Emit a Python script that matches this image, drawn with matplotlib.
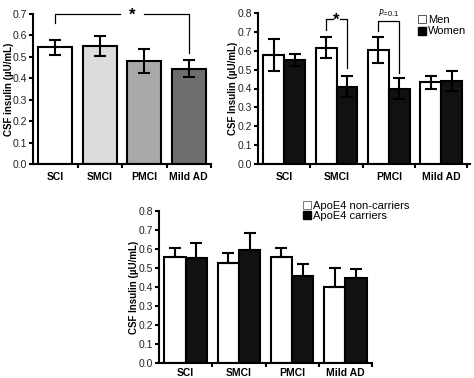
import matplotlib
matplotlib.use("Agg")
import matplotlib.pyplot as plt
from matplotlib.lines import Line2D
import numpy as np

plt.rcParams['font.family'] = ['Liberation Sans', 'DejaVu Sans']

categories = ["SCI", "SMCI", "PMCI", "Mild AD"]

# Panel A
a_vals = [0.545, 0.55, 0.48, 0.445]
a_err = [0.035, 0.045, 0.055, 0.04]
a_colors = ["#ffffff", "#dcdcdc", "#a9a9a9", "#6e6e6e"]

# Panel B
men_vals = [0.578, 0.617, 0.605, 0.433]
men_err = [0.086, 0.055, 0.068, 0.034]
women_vals = [0.553, 0.41, 0.40, 0.44]
women_err = [0.032, 0.055, 0.057, 0.052]

# Panel C
non_vals = [0.558, 0.526, 0.56, 0.402]
non_err = [0.045, 0.053, 0.043, 0.10]
car_vals = [0.551, 0.593, 0.458, 0.449]
car_err = [0.083, 0.093, 0.062, 0.045]

W, H = 474, 378
fig = plt.figure(figsize=(W / 100, H / 100), dpi=100)

def ax_px(l, r, b, t):
    return fig.add_axes([l / W, (H - b) / H, (r - l) / W, (b - t) / H])

def style(ax, ymax, step, label, lx, cpad=6):
    for s in ["top", "right"]:
        ax.spines[s].set_visible(False)
    for s in ["left", "bottom"]:
        ax.spines[s].set_linewidth(1.5)
    ax.set_ylim(0, ymax)
    ax.set_yticks(np.round(np.arange(0, ymax + 1e-9, step), 2))
    ax.set_yticklabels([f"{v:.1f}" for v in np.arange(0, ymax + 1e-9, step)], fontsize=7.5, color="#222222")
    ax.set_xlim(-0.5, 3.5)
    ax.set_xticks([0.5, 1.5, 2.5, 3.5])
    ax.set_xticklabels([])
    ax.set_xticks(range(4), minor=True)
    ax.set_xticklabels(categories, minor=True, fontsize=7.5, fontweight="bold")
    ax.tick_params(axis="x", which="minor", length=0, pad=cpad)
    ax.tick_params(axis="x", which="major", length=3, width=1.5, direction="out")
    ax.tick_params(axis="y", length=3, width=1.5, direction="out", pad=1)
    ax.set_ylabel(label, fontsize=7, fontweight="bold")
    ax.yaxis.set_label_coords(lx, 0.5)

x = np.arange(4)

# ---------- Panel A ----------
axA = ax_px(33, 211, 164, 14)
axA.bar(x, a_vals, width=0.77, color=a_colors, edgecolor="black", linewidth=1.5, zorder=2)
axA.errorbar(x, a_vals, yerr=a_err, fmt="none", ecolor="black", elinewidth=1.5,
             capsize=4, capthick=1.5, zorder=3)
style(axA, 0.7, 0.1, "CSF insulin (µU/mL)", -0.105)
axA.plot([0, 0, 1.45], [0.66, 0.7, 0.7], color="black", lw=0.9, clip_on=False)
axA.plot([2.0, 3, 3], [0.7, 0.7, 0.52], color="black", lw=0.9, clip_on=False)
axA.text(1.72, 0.695, "*", ha="center", va="center", fontsize=12, fontweight="bold")

# ---------- Panel B ----------
axB = ax_px(258, 470, 164, 13)
bw = 0.4
axB.bar(x - bw / 2, men_vals, width=bw, color="white", edgecolor="black", linewidth=1.5, zorder=2, label="Men")
axB.bar(x + bw / 2, women_vals, width=bw, color="#111111", edgecolor="black", linewidth=1.5, zorder=2, label="Women")
axB.errorbar(x - bw / 2, men_vals, yerr=men_err, fmt="none", ecolor="black", elinewidth=1.5,
             capsize=4, capthick=1.5, zorder=3)
axB.errorbar(x + bw / 2, women_vals, yerr=women_err, fmt="none", ecolor="black", elinewidth=1.5,
             capsize=4, capthick=1.5, zorder=3)
style(axB, 0.8, 0.1, "CSF Insulin (µU/mL)", -0.095)
axB.set_xlim(-0.5, 3.55)
axB.plot([1 - bw / 2, 1 - bw / 2, 0.93], [0.712, 0.77, 0.77], color="black", lw=0.9)
axB.plot([1.07, 1 + bw / 2, 1 + bw / 2], [0.77, 0.77, 0.51], color="black", lw=0.9)
axB.text(1.0, 0.762, "*", ha="center", va="center", fontsize=12, fontweight="bold")
axB.plot([2 - bw / 2, 2 - bw / 2, 2 + bw / 2, 2 + bw / 2], [0.703, 0.76, 0.76, 0.48], color="black", lw=0.9)
axB.text(2.0, 0.772, "$\\it{P}$=0.1", ha="center", va="bottom", fontsize=5.5)
hB = [Line2D([], [], marker="s", ls="none", markersize=6, markerfacecolor="white", markeredgecolor="#555555", markeredgewidth=0.7),
      Line2D([], [], marker="s", ls="none", markersize=6, markerfacecolor="black", markeredgecolor="black")]
axB.legend(hB, ["Men", "Women"], loc="upper left", bbox_to_anchor=(0.72, 1.04), frameon=False,
           fontsize=8, handlelength=0.7, handletextpad=0.15, labelspacing=0.15, borderpad=0.2)

# ---------- Panel C ----------
axC = ax_px(159, 372, 363, 211)
axC.bar(x - bw / 2, non_vals, width=bw, color="white", edgecolor="black", linewidth=1.5, zorder=2)
axC.bar(x + bw / 2, car_vals, width=bw, color="#111111", edgecolor="black", linewidth=1.5, zorder=2)
zeros = [0, 0, 0, 0]
axC.errorbar(x - bw / 2, non_vals, yerr=[zeros, non_err], fmt="none", ecolor="black", elinewidth=1.5,
             capsize=4, capthick=1.5, zorder=3)
axC.errorbar(x + bw / 2, car_vals, yerr=[zeros, car_err], fmt="none", ecolor="black", elinewidth=1.5,
             capsize=4, capthick=1.5, zorder=3)
style(axC, 0.8, 0.1, "CSF Insulin (µU/mL)", -0.095, cpad=3.5)
hC = [Line2D([], [], marker="s", ls="none", markersize=6, markerfacecolor="white", markeredgecolor="#777777", markeredgewidth=0.7),
      Line2D([], [], marker="s", ls="none", markersize=6, markerfacecolor="black", markeredgecolor="black")]
axC.legend(hC, ["ApoE4 non-carriers", "ApoE4 carriers"], loc="upper left", bbox_to_anchor=(0.64, 1.12),
           frameon=False, fontsize=8, handlelength=0.7, handletextpad=0.15, labelspacing=0.05, borderpad=0.2)

fig.savefig("out.png", dpi=100)
